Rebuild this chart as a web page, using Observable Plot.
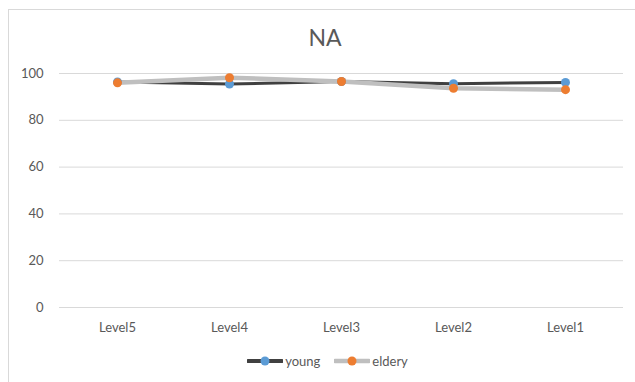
<!DOCTYPE html>
<html>
<head>
<meta charset="utf-8">
<script src="https://cdn.jsdelivr.net/npm/d3@7"></script>
<script src="https://cdn.jsdelivr.net/npm/@observablehq/plot@0.6"></script>
<style>
  html, body { margin: 0; padding: 0; background: #fff; }
  #chart {
    position: relative; width: 635px; height: 382px; overflow: hidden;
    font-family: Lato, "Open Sans", sans-serif; color: #595959;
  }
  #frame {
    position: absolute; left: 8px; top: 9px; width: 700px; height: 500px;
    border: 1px solid #d9d9d9; box-sizing: border-box;
  }
  #title {
    position: absolute; left: 0; top: 23px; width: 650px; text-align: center;
    font-size: 23px; color: #595959;
  }
  #plot { position: absolute; left: 0; top: 55px; }
  #legend {
    position: absolute; top: 353px; left: 0; width: 635px;
    display: flex; justify-content: center; align-items: center; gap: 14px;
    font-size: 13px; color: #595959; padding-left: 20px; box-sizing: border-box;
  }
  .item { display: flex; align-items: center; gap: 2px; }
</style>
</head>
<body>
<div id="chart">
  <div id="frame"></div>
  <div id="title">NA</div>
  <div id="plot"></div>
  <div id="legend"></div>
</div>
<script>
// Categories and series values
const levels = ["Level5", "Level4", "Level3", "Level2", "Level1"];
const young = [96.4, 95.5, 96.6, 95.6, 96.2];
const eldery = [96.0, 98.2, 96.6, 93.7, 93.1];
const yTicks = [0, 20, 40, 60, 80, 100];
const seriesNames = ["young", "eldery"];

const lineColor = {young: "#404040", eldery: "#bfbfbf"};
const lineWidth = {young: 3, eldery: 4.5};
const dotColor = {young: "#5b9bd5", eldery: "#ed7d31"};

const rows = [];
levels.forEach((l, i) => {
  rows.push({level: l, value: young[i], series: "young"});
  rows.push({level: l, value: eldery[i], series: "eldery"});
});

const marks = [
  Plot.ruleY(yTicks, {stroke: "#d9d9d9", strokeWidth: 1})
];
for (const s of seriesNames) {
  const data = rows.filter(d => d.series === s);
  marks.push(Plot.line(data, {x: "level", y: "value", stroke: lineColor[s], strokeWidth: lineWidth[s], strokeLinejoin: "round"}));
}
for (const s of seriesNames) {
  const data = rows.filter(d => d.series === s);
  marks.push(Plot.dot(data, {x: "level", y: "value", fill: dotColor[s], r: 4.5}));
}

const plot = Plot.plot({
  width: 635,
  height: 280,
  marginLeft: 59,
  marginRight: 12,
  marginTop: 18,
  marginBottom: 28,
  style: {fontFamily: "Lato, 'Open Sans', sans-serif", fontSize: "13px", color: "#595959", background: "transparent"},
  x: {type: "point", domain: levels, padding: 0.5, label: null, tickSize: 0, tickPadding: 15},
  y: {domain: [0, 100], ticks: yTicks, label: null, tickSize: 0, tickPadding: 16},
  marks
});
document.getElementById("plot").appendChild(plot);

// Legend
const legend = document.getElementById("legend");
for (const s of seriesNames) {
  const item = document.createElement("div");
  item.className = "item";
  item.innerHTML =
    `<svg width="36" height="12"><line x1="1" y1="6" x2="35" y2="6" stroke="${lineColor[s]}" stroke-width="${s === "young" ? 4 : 4.5}" stroke-linecap="round"/>` +
    `<circle cx="18" cy="6" r="4.5" fill="${dotColor[s]}"/></svg><span>${s}</span>`;
  legend.appendChild(item);
}
</script>
</body>
</html>
